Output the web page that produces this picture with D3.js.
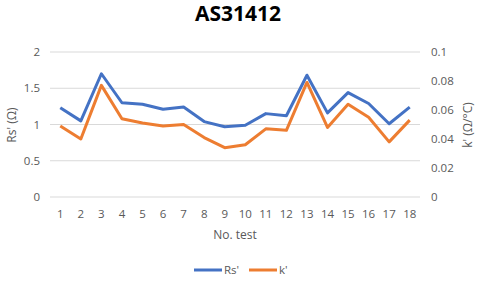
<!DOCTYPE html>
<html><head><meta charset="utf-8">
<script src="https://cdn.jsdelivr.net/npm/d3@7"></script>
<style>body{margin:0;background:#fff}svg{display:block}text{font-family:"Open Sans",sans-serif;fill:#595959}</style>
</head><body><svg id="c" width="480" height="283"></svg>
<script>
const tests = ["1","2","3","4","5","6","7","8","9","10","11","12","13","14","15","16","17","18"];
const rs = [1.23,1.05,1.70,1.30,1.28,1.21,1.24,1.04,0.97,0.99,1.15,1.12,1.68,1.16,1.44,1.29,1.01,1.24];
const kk = [0.049,0.040,0.077,0.054,0.051,0.049,0.050,0.041,0.034,0.036,0.047,0.046,0.079,0.048,0.064,0.055,0.038,0.053];
const leftTicks = [0,0.5,1,1.5,2];
const rightTicks = [0,0.02,0.04,0.06,0.08,0.1];

const svg = d3.select("#c");
const L=50,R=420,T=52,B=197;
const x = d3.scaleBand().domain(tests).range([L,R]);
const yL = d3.scaleLinear().domain([0,2]).range([B,T]);
const yR = d3.scaleLinear().domain([0,0.1]).range([B,T]);

svg.append("g").selectAll("line").data(leftTicks).join("line")
  .attr("x1",L).attr("x2",R).attr("y1",d=>yL(d)).attr("y2",d=>yL(d))
  .attr("stroke","#d9d9d9").attr("stroke-width",1);

svg.append("g").selectAll("text").data(leftTicks).join("text")
  .attr("x",40).attr("y",d=>yL(d)+4).attr("text-anchor","end").attr("font-size",11.5).text(d=>d);
svg.append("g").selectAll("text").data(rightTicks).join("text")
  .attr("x",431).attr("y",d=>yR(d)+4).attr("text-anchor","start").attr("font-size",11.5).text(d=>d);
svg.append("g").selectAll("text").data(tests).join("text")
  .attr("x",d=>x(d)+x.bandwidth()/2).attr("y",218).attr("text-anchor","middle").attr("font-size",11.5).text(d=>d);

svg.append("text").attr("x",238).attr("y",21).attr("text-anchor","middle").attr("font-size",21).attr("font-weight","bold").style("fill","#000").text("AS31412");
svg.append("text").attr("x",235).attr("y",239).attr("text-anchor","middle").attr("font-size",12).text("No. test");
svg.append("text").attr("transform","translate(16,125) rotate(-90)").attr("text-anchor","middle").attr("font-size",12).text("Rs' (Ω)");
svg.append("text").attr("transform","translate(472,125) rotate(-90)").attr("text-anchor","middle").attr("font-size",12).text("k' (Ω/°C)");

const cx = d=>x(d)+x.bandwidth()/2;
svg.append("path").datum(rs).attr("fill","none").attr("stroke","#4472C4").attr("stroke-width",3).attr("stroke-linejoin","round")
  .attr("d",d3.line().x((d,i)=>cx(tests[i])).y(d=>yL(d)));
svg.append("path").datum(kk).attr("fill","none").attr("stroke","#ED7D31").attr("stroke-width",3).attr("stroke-linejoin","round")
  .attr("d",d3.line().x((d,i)=>cx(tests[i])).y(d=>yR(d)));

const lg = [{n:"Rs'",c:"#4472C4",x:194},{n:"k'",c:"#ED7D31",x:249}];
lg.forEach(l=>{
  svg.append("line").attr("x1",l.x).attr("x2",l.x+28).attr("y1",270).attr("y2",270).attr("stroke",l.c).attr("stroke-width",3);
  svg.append("text").attr("x",l.x+30).attr("y",274).attr("font-size",11.5).text(l.n);
});
</script></body></html>
